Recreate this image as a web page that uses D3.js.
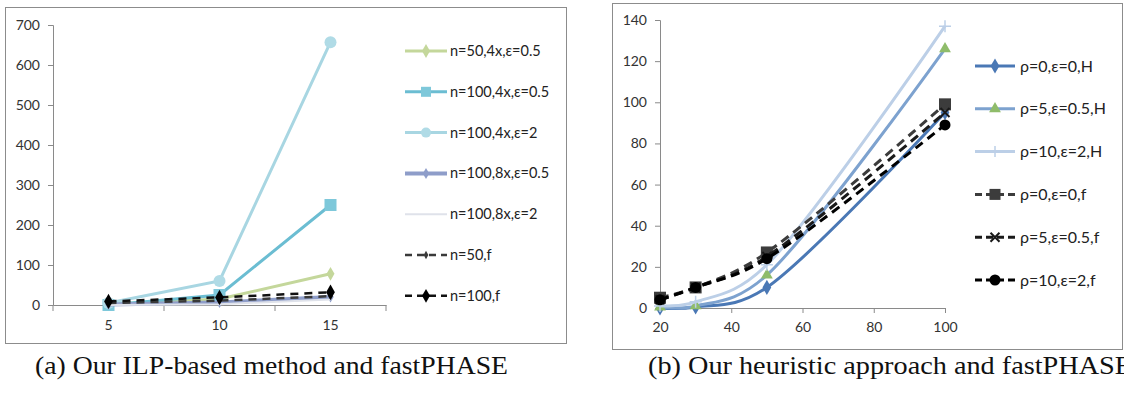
<!DOCTYPE html>
<html><head><meta charset="utf-8">
<script src="https://cdn.jsdelivr.net/npm/d3@7/dist/d3.min.js"></script>
<style>
body{margin:0;background:#fff;}
svg{display:block;}
.tk{font-family:Lato,"Open Sans",sans-serif;font-size:14px;fill:#333;}
.lg{font-family:Lato,"Open Sans",sans-serif;font-size:14.5px;fill:#222;}
.cap{font-family:"Liberation Serif","DejaVu Serif",serif;font-size:25px;fill:#111;}
</style></head>
<body>
<svg id="c" width="1124" height="398"></svg>
<script>
// ---------- Data: panel (a) ----------
const aCategories = ["5", "10", "15"];
const aYTicks = [0, 100, 200, 300, 400, 500, 600, 700];
const aNames = ["n=50,4x,ε=0.5", "n=100,4x,ε=0.5", "n=100,4x,ε=2", "n=100,8x,ε=0.5", "n=100,8x,ε=2", "n=50,f", "n=100,f"];
const aN50_4x_05  = [2, 15, 78];
const aN100_4x_05 = [0, 25, 250];
const aN100_4x_2  = [5, 60, 657];
const aN100_8x_05 = [1, 6, 20];
const aN100_8x_2  = [0, 2, 14];
const aN50_f      = [5, 11, 22];
const aN100_f     = [9, 19, 32];

// ---------- Data: panel (b) ----------
const bX = [20, 30, 50, 100];
const bXTicks = [20, 40, 60, 80, 100];
const bYTicks = [0, 20, 40, 60, 80, 100, 120, 140];
const bNames = ["ρ=0,ε=0,H", "ρ=5,ε=0.5,H", "ρ=10,ε=2,H", "ρ=0,ε=0,f", "ρ=5,ε=0.5,f", "ρ=10,ε=2,f"];
const bRho0H  = [0, 0.5, 10, 95];
const bRho5H  = [0.5, 1, 16, 126];
const bRho10H = [1, 3, 21, 137];
const bRho0f  = [5, 10, 27, 99];
const bRho5f  = [4, 10, 25, 95];
const bRho10f = [4, 10, 24, 89];

const svg = d3.select("#c");
const axisCol = "#8a8a8a";

function marker(g, type, x, y, s, fill) {
  if (type === "none") return;
  if (type === "circle") { g.append("circle").attr("cx", x).attr("cy", y).attr("r", s/2).attr("fill", fill); return; }
  if (type === "square") { g.append("rect").attr("x", x-s/2).attr("y", y-s/2).attr("width", s).attr("height", s).attr("fill", fill); return; }
  if (type === "diamond") { g.append("path").attr("d", d3.symbol(d3.symbolDiamond, s*s*0.55)()).attr("transform", `translate(${x},${y})`).attr("fill", fill); return; }
  if (type === "triangle") { g.append("path").attr("d", d3.symbol(d3.symbolTriangle, s*s*0.5)()).attr("transform", `translate(${x},${y})`).attr("fill", fill); return; }
  if (type === "plus") { g.append("path").attr("d", `M${x-s/2},${y}H${x+s/2}M${x},${y-s/2}V${y+s/2}`).attr("stroke", fill).attr("stroke-width", 1.5); return; }
  if (type === "cross") { g.append("path").attr("d", `M${x-s/2},${y-s/2}L${x+s/2},${y+s/2}M${x-s/2},${y+s/2}L${x+s/2},${y-s/2}`).attr("stroke", fill).attr("stroke-width", 2); return; }
}

// ---------- Panel (a) ----------
svg.append("rect").attr("x", 5.5).attr("y", 7.5).attr("width", 561).attr("height", 336)
  .attr("fill", "#fff").attr("stroke", "#8c8c8c");

const ax = d3.scaleBand().domain(aCategories).range([53, 386]);
const ay = d3.scaleLinear().domain([0, 700]).range([305, 25]);

const gA = svg.append("g");
const yAxA = gA.append("g").attr("transform", "translate(53,0)")
  .call(d3.axisLeft(ay).tickValues(aYTicks).tickSize(5).tickPadding(8));
const xAxA = gA.append("g").attr("transform", "translate(0,305)")
  .call(d3.axisBottom(ax).tickSize(0).tickPadding(15));
const bounds = aCategories.map(c => ax(c)).concat([ax.range()[1]]);
gA.selectAll(".bt").data(bounds).enter().append("line")
  .attr("x1", d => d).attr("x2", d => d).attr("y1", 305).attr("y2", 311).attr("stroke", axisCol);
[yAxA, xAxA].forEach(a => {
  a.selectAll("path,line").attr("stroke", axisCol);
  a.selectAll("text").attr("class", "tk");
  a.attr("font-family", null).attr("font-size", null);
});

const aSeries = [
  {name: aNames[0], v: aN50_4x_05,  col: "#c4d79b", w: 3, dash: null, mk: "diamond", ms: 10, mcol: "#c4d79b"},
  {name: aNames[1], v: aN100_4x_05, col: "#6bbdd2", w: 3, dash: null, mk: "square", ms: 12, mcol: "#7ec8da"},
  {name: aNames[2], v: aN100_4x_2,  col: "#a8d6e2", w: 3, dash: null, mk: "circle", ms: 12, mcol: "#b0dbe6"},
  {name: aNames[3], v: aN100_8x_05, col: "#8e9dc9", w: 4, dash: null, mk: "diamond", ms: 8, mcol: "#8e9dc9"},
  {name: aNames[4], v: aN100_8x_2,  col: "#dfe2ea", w: 2, dash: null, mk: "none", ms: 0, mcol: "#dfe2ea"},
  {name: aNames[5], v: aN50_f,      col: "#3a3a3a", w: 2.5, dash: "8,6", mk: "diamond", ms: 6, mcol: "#3a3a3a"},
  {name: aNames[6], v: aN100_f,     col: "#111", w: 2.5, dash: "8,6", mk: "diamond", ms: 11, mcol: "#000"}
];
const lineA = d3.line().x((d, i) => ax(aCategories[i]) + ax.bandwidth()/2).y(d => ay(d));
aSeries.forEach(s => {
  gA.append("path").attr("d", lineA(s.v)).attr("fill", "none").attr("stroke", s.col)
    .attr("stroke-width", s.w).attr("stroke-dasharray", s.dash);
  s.v.forEach((d, i) => marker(gA, s.mk, ax(aCategories[i]) + ax.bandwidth()/2, ay(d), s.ms, s.mcol));
});
const lgA = svg.append("g");
aSeries.forEach((s, i) => {
  const y = 51 + i * 40.8;
  lgA.append("line").attr("x1", 405).attr("x2", 447).attr("y1", y).attr("y2", y)
    .attr("stroke", s.col).attr("stroke-width", s.w).attr("stroke-dasharray", s.dash ? "7,5" : null);
  marker(lgA, s.mk, 426, y, Math.min(s.ms, 10), s.mcol);
  lgA.append("text").attr("class", "lg").attr("x", 450).attr("y", y).attr("dy", "0.35em").text(s.name);
});

// ---------- Panel (b) ----------
svg.append("rect").attr("x", 612.5).attr("y", 3.5).attr("width", 510).attr("height", 346)
  .attr("fill", "#fff").attr("stroke", "#8c8c8c");

const bx = d3.scaleLinear().domain([20, 100]).range([660, 945]);
const by = d3.scaleLinear().domain([0, 140]).range([308, 20]);
const gB = svg.append("g");
const yAxB = gB.append("g").attr("transform", "translate(660,0)")
  .call(d3.axisLeft(by).tickValues(bYTicks).tickSize(5).tickPadding(8));
const xAxB = gB.append("g").attr("transform", "translate(0,308)")
  .call(d3.axisBottom(bx).tickValues(bXTicks).tickSize(5).tickPadding(9));
[yAxB, xAxB].forEach(a => {
  a.selectAll("path,line").attr("stroke", axisCol);
  a.selectAll("text").attr("class", "tk");
  a.attr("font-family", null).attr("font-size", null);
});

const bSeries = [
  {name: bNames[0], v: bRho0H,  col: "#4a78b5", w: 3, dash: null, mk: "diamond", ms: 11, mcol: "#4a78b5"},
  {name: bNames[1], v: bRho5H,  col: "#7da2cf", w: 3, dash: null, mk: "triangle", ms: 11, mcol: "#8fbc6a"},
  {name: bNames[2], v: bRho10H, col: "#bccfe7", w: 3, dash: null, mk: "plus", ms: 12, mcol: "#bccfe7"},
  {name: bNames[3], v: bRho0f,  col: "#3c3c3c", w: 3, dash: "9,6", mk: "square", ms: 12, mcol: "#3c3c3c"},
  {name: bNames[4], v: bRho5f,  col: "#1a1a1a", w: 3, dash: "9,6", mk: "cross", ms: 9, mcol: "#1a1a1a"},
  {name: bNames[5], v: bRho10f, col: "#000", w: 3, dash: "9,6", mk: "circle", ms: 11, mcol: "#000"}
];
const lineB = d3.line().x((d, i) => bx(bX[i])).y(d => by(d)).curve(d3.curveCatmullRom.alpha(0.25));
bSeries.forEach(s => {
  gB.append("path").attr("d", lineB(s.v)).attr("fill", "none").attr("stroke", s.col)
    .attr("stroke-width", s.w).attr("stroke-dasharray", s.dash);
  s.v.forEach((d, i) => marker(gB, s.mk, bx(bX[i]), by(d), s.ms, s.mcol));
});
const lgB = svg.append("g");
bSeries.forEach((s, i) => {
  const y = 66 + i * 42.8;
  lgB.append("line").attr("x1", 975).attr("x2", 1015).attr("y1", y).attr("y2", y)
    .attr("stroke", s.col).attr("stroke-width", s.w).attr("stroke-dasharray", s.dash ? "7,4" : null);
  marker(lgB, s.mk, 995, y, Math.min(s.ms, 11), s.mcol);
  lgB.append("text").attr("class", "lg").attr("x", 1020).attr("y", y).attr("dy", "0.35em")
    .style("font-size", "16px").text(s.name);
});

// ---------- Captions ----------
svg.append("text").attr("class", "cap").attr("x", 35).attr("y", 374)
  .attr("textLength", 473).attr("lengthAdjust", "spacingAndGlyphs")
  .text("(a) Our ILP-based method and fastPHASE");
svg.append("text").attr("class", "cap").attr("x", 648).attr("y", 374)
  .attr("textLength", 484).attr("lengthAdjust", "spacingAndGlyphs")
  .text("(b) Our heuristic approach and fastPHASE");
</script>
</body></html>
